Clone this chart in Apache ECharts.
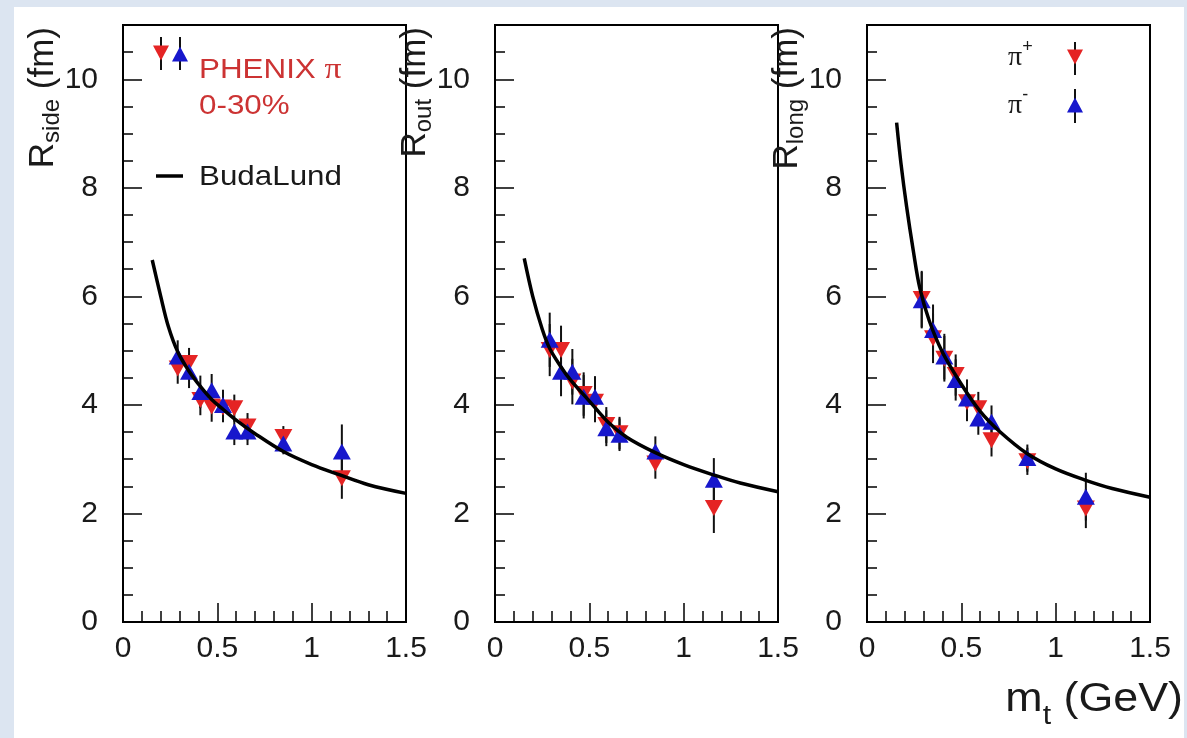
<!DOCTYPE html>
<html><head><meta charset="utf-8">
<script src="https://cdn.jsdelivr.net/npm/echarts@6/dist/echarts.min.js"></script>
<style>
html,body{margin:0;padding:0;background:#dce5f1;overflow:hidden;}
#bg{position:absolute;left:14px;top:7px;width:1170px;height:731px;background:#fff;}
#chart{position:absolute;left:0;top:0;width:1187px;height:738px;}
</style></head><body>
<div id="bg"></div><div id="chart"></div>
<script>
// ---- data ----
const mtBins = [0.29, 0.35, 0.41, 0.47, 0.53, 0.59, 0.66, 0.85, 1.16];
const xTicks = [0, 0.5, 1, 1.5];
const yTicks = [0, 2, 4, 6, 8, 10];

const sideRed  = [4.67, 4.77, 4.09, 3.97, 3.95, 3.94, 3.60, 3.41, 2.65];
const sideBlue = [4.89, 4.61, 4.24, 4.27, 4.00, 3.51, 3.51, 3.29, 3.14];
const sideErrRed  = [0.28, 0.28, 0.28, 0.28, 0.27, 0.25, 0.25, 0.20, 0.38];
const sideErrBlue = [0.30, 0.30, 0.30, 0.30, 0.28, 0.25, 0.25, 0.20, 0.50];

const outRed  = [5.01, 5.01, 4.43, 4.20, 4.06, 3.63, 3.48, 2.92, 2.10];
const outBlue = [5.20, 4.61, 4.61, 4.15, 4.15, 3.57, 3.45, 3.14, 2.62];
const outErrRed  = [0.48, 0.45, 0.42, 0.40, 0.38, 0.33, 0.30, 0.28, 0.46];
const outErrBlue = [0.50, 0.45, 0.42, 0.40, 0.38, 0.33, 0.30, 0.28, 0.40];

const longRed  = [5.95, 5.23, 4.85, 4.55, 4.05, 3.94, 3.35, 2.96, 2.09];
const longBlue = [5.93, 5.38, 4.89, 4.46, 4.12, 3.75, 3.69, 3.02, 2.31];
const longErrRed  = [0.52, 0.46, 0.42, 0.38, 0.35, 0.30, 0.30, 0.25, 0.36];
const longErrBlue = [0.52, 0.47, 0.42, 0.38, 0.35, 0.30, 0.30, 0.25, 0.44];

const sideCurveX = [0.155, 0.2, 0.24, 0.29, 0.35, 0.41, 0.47, 0.53, 0.6, 0.7, 0.85, 1.0, 1.15, 1.3, 1.5];
const sideCurveY = [6.67, 6.0, 5.45, 4.98, 4.62, 4.34, 4.10, 3.92, 3.72, 3.47, 3.14, 2.90, 2.71, 2.53, 2.37];
const outCurveX  = [0.155, 0.2, 0.25, 0.29, 0.35, 0.4, 0.5, 0.6, 0.7, 0.85, 1.0, 1.15, 1.3, 1.5];
const outCurveY  = [6.70, 6.0, 5.40, 5.04, 4.70, 4.46, 4.07, 3.68, 3.40, 3.12, 2.90, 2.72, 2.56, 2.40];
const longCurveX = [0.157, 0.18, 0.21, 0.245, 0.28, 0.33, 0.4, 0.5, 0.6, 0.7, 0.85, 1.0, 1.16, 1.3, 1.5];
const longCurveY = [9.20, 8.45, 7.65, 6.85, 6.15, 5.55, 4.97, 4.38, 3.88, 3.52, 3.10, 2.82, 2.61, 2.46, 2.30];

const panelNames = ['side', 'out', 'long'];
const xTitle = 'GeV';

// ---- styling ----
const RED = '#e52424', BLUE = '#1717cc', TXT = '#1a1a1a', FONT = 'Liberation Sans';
const gridLefts = [123, 495, 867];
const GRID_TOP = 25, GRID_H = 597, GRID_W = 283;

const panels = [
  {red: sideRed, blue: sideBlue, er: sideErrRed, eb: sideErrBlue, cx: sideCurveX, cy: sideCurveY},
  {red: outRed, blue: outBlue, er: outErrRed, eb: outErrBlue, cx: outCurveX, cy: outCurveY},
  {red: longRed, blue: longBlue, er: longErrRed, eb: longErrBlue, cx: longCurveX, cy: longCurveY}
];

function errRender(params, api) {
  const x = api.value(0), y = api.value(1), e = api.value(2);
  const a = api.coord([x, y - e]), b = api.coord([x, y + e]);
  return {type: 'line', shape: {x1: a[0], y1: a[1], x2: b[0], y2: b[1]},
          style: {stroke: '#111', lineWidth: 2}};
}

const grid = [], xAxis = [], yAxis = [], series = [];
panels.forEach((p, i) => {
  grid.push({left: gridLefts[i], top: GRID_TOP, width: GRID_W, height: GRID_H,
             show: true, borderColor: '#000', borderWidth: 2, backgroundColor: 'transparent'});
  xAxis.push({gridIndex: i, type: 'value', min: xTicks[0], max: xTicks[xTicks.length - 1], interval: 0.5,
    position: 'bottom',
    axisLine: {onZero: false, lineStyle: {color: '#000', width: 2}},
    axisTick: {inside: true, length: 19, lineStyle: {color: '#000', width: 1.5}},
    minorTick: {show: true, splitNumber: 5, length: 11, lineStyle: {color: '#000', width: 1.5}},
    axisLabel: {fontSize: 30, fontFamily: FONT, color: TXT, margin: 12,
                formatter: v => xTicks.includes(v) ? String(v) : ''},
    splitLine: {show: false}, minorSplitLine: {show: false}});
  yAxis.push({gridIndex: i, type: 'value', min: 0, max: 11, interval: 2, position: 'left',
    axisLine: {onZero: false, lineStyle: {color: '#000', width: 2}},
    axisTick: {inside: true, length: 19, lineStyle: {color: '#000', width: 1.5}},
    axisLabel: {fontSize: 30, fontFamily: FONT, color: TXT, margin: 25, showMaxLabel: false,
                formatter: v => yTicks.includes(v) ? String(v) : ''},
    splitLine: {show: false}});
  yAxis.push({gridIndex: i, type: 'value', min: 0, max: 11, interval: 0.5, position: 'left',
    axisLine: {show: false},
    axisTick: {inside: true, length: 10, lineStyle: {color: '#000', width: 1.5}},
    axisLabel: {show: false}, splitLine: {show: false}});

  const yi = 2 * i;
  series.push({type: 'custom', xAxisIndex: i, yAxisIndex: yi, renderItem: errRender, z: 3,
    data: mtBins.map((x, k) => [x, p.red[k], p.er[k]])});
  series.push({type: 'custom', xAxisIndex: i, yAxisIndex: yi, renderItem: errRender, z: 3,
    data: mtBins.map((x, k) => [x, p.blue[k], p.eb[k]])});
  series.push({type: 'scatter', xAxisIndex: i, yAxisIndex: yi, symbol: 'triangle', symbolRotate: 180,
    symbolSize: [18, 16], itemStyle: {color: RED, opacity: 1}, z: 4,
    data: mtBins.map((x, k) => [x, p.red[k]])});
  series.push({type: 'scatter', xAxisIndex: i, yAxisIndex: yi, symbol: 'triangle',
    symbolSize: [18, 16], itemStyle: {color: BLUE, opacity: 1}, z: 5,
    data: mtBins.map((x, k) => [x, p.blue[k]])});
  series.push({type: 'line', xAxisIndex: i, yAxisIndex: yi, smooth: 0.35,
    showSymbol: false, silent: true, z: 6, lineStyle: {color: '#000', width: 3.5},
    data: p.cx.map((x, k) => [x, p.cy[k]])});
});

// ---- texts & legend glyphs ----
const graphic = [];
panelNames.forEach((nm, i) => {
  graphic.push({type: 'text', x: gridLefts[i] - 97, y: 27, rotation: Math.PI / 2,
    style: {text: '{r|R}{s|' + nm + '}{r| (fm)}', align: 'right', verticalAlign: 'top', fill: TXT,
      rich: {
        r: {fontSize: 35, lineHeight: 35, fontFamily: FONT, fill: TXT, verticalAlign: 'top'},
        s: {fontSize: 24, lineHeight: 24, fontFamily: FONT, fill: TXT, verticalAlign: 'top', padding: [14, 0, 0, 0]}
      }}});
});
graphic.push({type: 'text', x: 1183, y: 680, scaleX: 1.12,
  style: {text: '{m|m}{t|t}{m| (' + xTitle + ')}', align: 'right', verticalAlign: 'top', fill: TXT,
    rich: {
      m: {fontSize: 40, lineHeight: 40, fontFamily: FONT, fill: TXT, verticalAlign: 'top'},
      t: {fontSize: 27, lineHeight: 27, fontFamily: FONT, fill: TXT, verticalAlign: 'top', padding: [23, 0, 0, 0]}
    }}});
const LEG_RED = '#cc3333';
graphic.push({type: 'text', x: 199, y: 70, scaleX: 1.12,
  style: {text: '{a|PHENIX }{p|π}', align: 'left', verticalAlign: 'middle',
    rich: {a: {fontSize: 28, fontFamily: FONT, fill: LEG_RED}, p: {fontSize: 30, fontFamily: 'Liberation Serif', fill: LEG_RED}}}});
graphic.push({type: 'text', x: 199, y: 106, scaleX: 1.12,
  style: {text: '0-30%', align: 'left', verticalAlign: 'middle', fontSize: 28, fontFamily: FONT, fill: LEG_RED}});
graphic.push({type: 'text', x: 199, y: 177, scaleX: 1.12,
  style: {text: 'BudaLund', align: 'left', verticalAlign: 'middle', fontSize: 28, fontFamily: FONT, fill: TXT}});
graphic.push({type: 'line', shape: {x1: 156, y1: 176, x2: 183, y2: 176}, style: {stroke: '#000', lineWidth: 3.5}});

function glyph(cx, cy, down, color, y1, y2) {
  graphic.push({type: 'line', shape: {x1: cx, y1: y1, x2: cx, y2: y2}, style: {stroke: '#111', lineWidth: 2}});
  const pts = down ? [[cx - 8, cy - 7.5], [cx + 8, cy - 7.5], [cx, cy + 7.5]]
                   : [[cx - 8, cy + 7.5], [cx + 8, cy + 7.5], [cx, cy - 7.5]];
  graphic.push({type: 'polygon', shape: {points: pts}, style: {fill: color}});
}
glyph(161, 53, true, RED, 37, 70);
glyph(180, 54, false, BLUE, 37, 70);
glyph(1075, 57, true, RED, 42, 75);
glyph(1075, 105, false, BLUE, 89, 123);

function piLabel(y0, sup) {
  graphic.push({type: 'text', x: 1008, y: y0,
    style: {text: '{p|π}{s|' + sup + '}', align: 'left', verticalAlign: 'top',
      rich: {
        p: {fontSize: 28, lineHeight: 28, fontFamily: 'Liberation Serif', fill: TXT, verticalAlign: 'top', padding: [6, 0, 0, 0]},
        s: {fontSize: 18, lineHeight: 18, fontFamily: FONT, fill: TXT, verticalAlign: 'top'}
      }}});
}
piLabel(38, '+');
piLabel(86, '-');

const chart = echarts.init(document.getElementById('chart'), null, {renderer: 'canvas'});
chart.setOption({
  backgroundColor: 'transparent',
  animation: false,
  grid, xAxis, yAxis, series, graphic
});
</script>
</body></html>
